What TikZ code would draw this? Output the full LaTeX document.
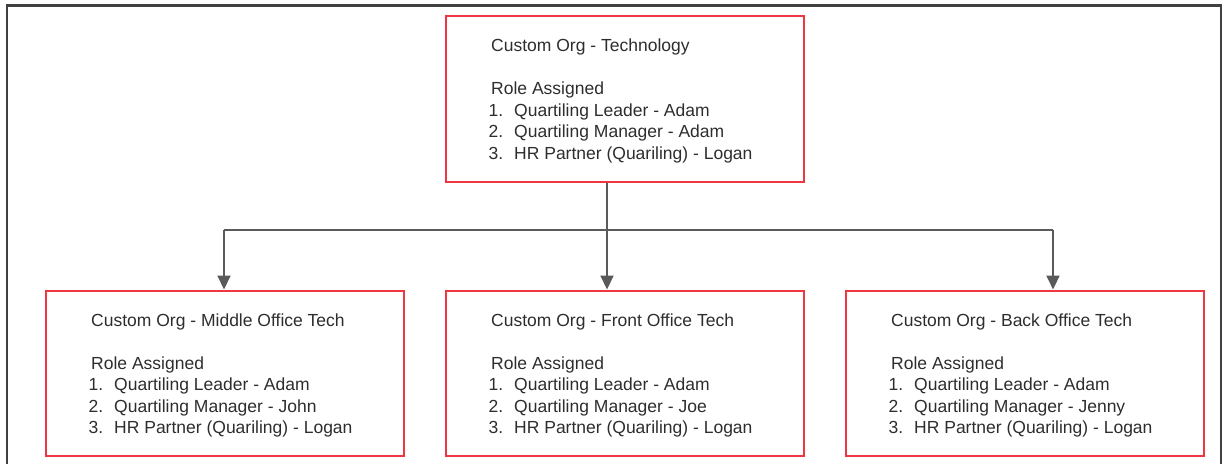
\documentclass[tikz,border=0pt]{standalone}
\usepackage{fontspec}
\setmainfont{Liberation Sans}
\usetikzlibrary{arrows.meta}
\definecolor{boxred}{RGB}{238,55,65}
\definecolor{linegray}{RGB}{90,90,90}
\definecolor{framegray}{RGB}{64,64,64}
\definecolor{txtgray}{RGB}{45,45,45}
\newcommand\numit[1]{\hbox{\kern-2.5pt\hbox to 25.5pt{#1\hss}}}
\newcommand\orgtext[3]{\vtop{\baselineskip=21.5pt\hbox{Custom Org - #1}\hbox{}\hbox{Role Assigned}\hbox{\numit{1.}Quartiling Leader - #2}\hbox{\numit{2.}Quartiling Manager - #3}\hbox{\numit{3.}HR Partner (Quariling) - Logan}}}
\tikzset{
  orgbox/.style={draw=boxred, line width=2pt, minimum width=358pt, minimum height=165pt, inner sep=0pt},
  orgtxt/.style={anchor=base west, inner sep=0pt, text=txtgray, font=\fontsize{17.5pt}{21.5pt}\selectfont},
  conn/.style={draw=linegray, line width=2pt},
  arr/.style={conn, -{Triangle[width=13pt,length=14pt]}},
  frame/.style={draw=framegray, line width=2.6pt}
}
\begin{document}
\begin{tikzpicture}[x=1pt,y=-1pt]
\useasboundingbox (0,0) rectangle (1225,463);
\draw[frame] (7,480) -- (7,5.5) -- (1221,5.5) -- (1221,480);
\node[orgbox, minimum height=166pt] (top) at (625,99) {};
\node[orgbox] (left) at (225,373) {};
\node[orgbox] (mid) at (625,373) {};
\node[orgbox] (right) at (1025,373) {};
\node[orgtxt] (topt) at ([shift={(46,36.5)}]top.north west) {\orgtext{Technology}{Adam}{Adam}};
\node[orgtxt] (leftt) at ([shift={(46,36.5)}]left.north west) {\orgtext{Middle Office Tech}{Adam}{John}};
\node[orgtxt] (midt) at ([shift={(46,36.5)}]mid.north west) {\orgtext{Front Office Tech}{Adam}{Joe}};
\node[orgtxt] (rightt) at ([shift={(46,36.5)}]right.north west) {\orgtext{Back Office Tech}{Adam}{Jenny}};
\coordinate (jl) at (224,230);
\coordinate (jr) at (1053,230);
\draw[conn] (jl) -- (jr);
\draw[arr] (jl) -- (jl |- left.north);
\draw[arr] (jr) -- (jr |- right.north);
\draw[arr] ([xshift=-18pt]top.south) -- ([xshift=-18pt]mid.north);
\end{tikzpicture}
\end{document}
